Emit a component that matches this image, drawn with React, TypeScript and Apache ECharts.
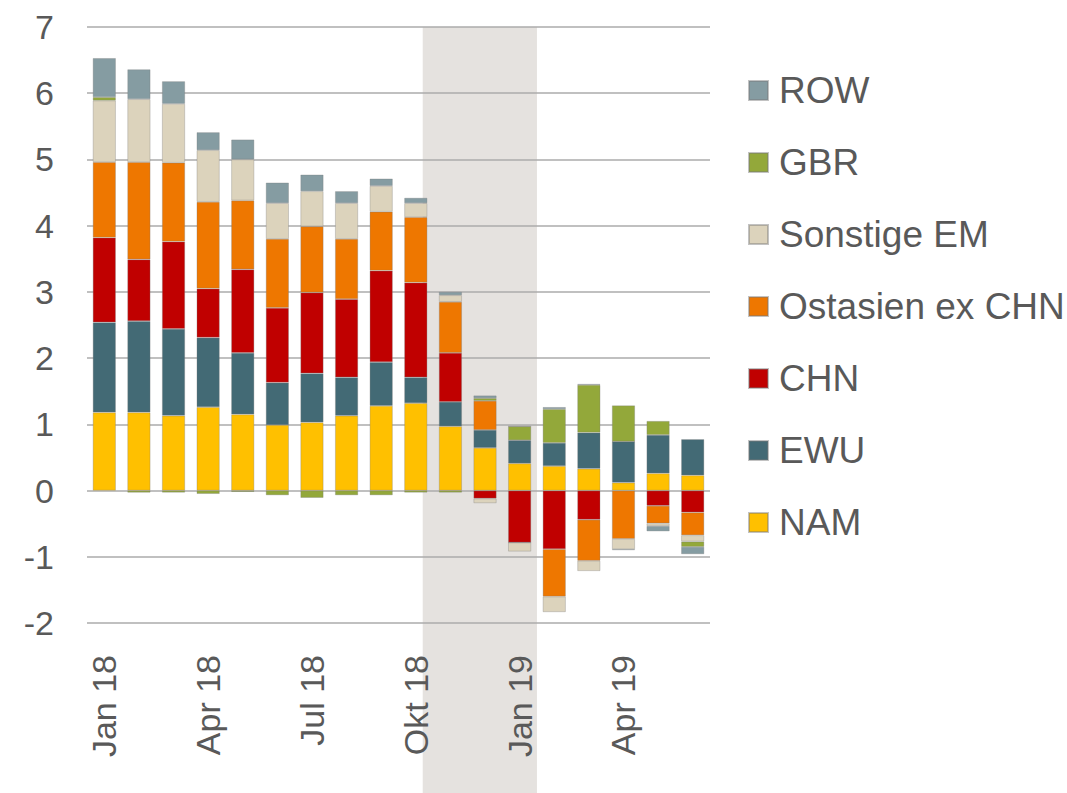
import React, { useEffect, useRef } from "react";
import * as echarts from "echarts";

const categories = ["Jan 18", "Feb 18", "Mär 18", "Apr 18", "Mai 18", "Jun 18", "Jul 18", "Aug 18", "Sep 18", "Okt 18", "Nov 18", "Dez 18", "Jan 19", "Feb 19", "Mär 19", "Apr 19", "Mai 19", "Jun 19"];

const NAM = [1.18, 1.18, 1.13, 1.26, 1.15, 0.99, 1.03, 1.13, 1.28, 1.32, 0.97, 0.645, 0.41, 0.37, 0.33, 0.12, 0.26, 0.23];
const EWU = [1.36, 1.38, 1.31, 1.05, 0.93, 0.64, 0.74, 0.58, 0.66, 0.39, 0.37, 0.27, 0.35, 0.35, 0.545, 0.62, 0.58, 0.545];
const CHN = [1.28, 0.93, 1.32, 0.74, 1.26, 1.13, 1.22, 1.18, 1.38, 1.43, 0.74, -0.12, -0.785, -0.885, -0.44, 0, -0.23, -0.33];
const OST = [1.14, 1.47, 1.19, 1.31, 1.04, 1.04, 1.0, 0.91, 0.89, 0.99, 0.77, 0.44, 0, -0.715, -0.62, -0.73, -0.265, -0.345];
const SONST = [0.93, 0.95, 0.89, 0.78, 0.62, 0.54, 0.53, 0.54, 0.39, 0.21, 0.1, -0.07, -0.135, -0.235, -0.155, -0.155, -0.04, -0.095];
const GBR = [0.05, -0.03, -0.03, -0.05, -0.02, -0.07, -0.11, -0.07, -0.07, -0.03, -0.03, 0.04, 0.21, 0.51, 0.72, 0.545, 0.21, -0.08];
const ROW = [0.59, 0.45, 0.34, 0.27, 0.3, 0.31, 0.25, 0.18, 0.11, 0.08, 0.05, 0.04, 0, 0.03, 0.015, -0.015, -0.08, -0.11];

const seriesNames = ["NAM", "EWU", "CHN", "Ostasien ex CHN", "Sonstige EM", "GBR", "ROW"];
const seriesData = [NAM, EWU, CHN, OST, SONST, GBR, ROW];
const seriesColors = ["#FFC000", "#436A75", "#C00000", "#EE7700", "#DCD3BC", "#93A83A", "#859CA2"];
const legendOrder = ["ROW", "GBR", "Sonstige EM", "Ostasien ex CHN", "CHN", "EWU", "NAM"];

// shaded period on a continuous month scale (0..18)
const shadeStart = 9.7;
const shadeEnd = 13.0;

const yMin = -2;
const yMax = 7;

export default function App() {
  const ref = useRef<HTMLDivElement>(null);
  useEffect(() => {
    if (!ref.current) return;
    const chart = echarts.init(ref.current, undefined, { renderer: "svg" });
    const font = "'Liberation Sans', Arial, sans-serif";
    chart.setOption({
      animation: false,
      backgroundColor: "#ffffff",
      grid: { left: 87, right: 357, top: 27, bottom: 170, containLabel: false },
      legend: {
        orient: "vertical",
        left: 743,
        top: 67,
        data: legendOrder,
        icon: "rect",
        itemWidth: 19,
        itemHeight: 19,
        itemGap: 35,
        selectedMode: false,
        textStyle: { fontSize: 37, color: "#595959", fontFamily: font, padding: [0, 0, 0, 6] },
      },
      xAxis: [
        {
          type: "category",
          data: categories,
          axisLine: { show: false },
          axisTick: { show: false },
          axisLabel: {
            interval: 2,
            rotate: 90,
            fontSize: 34,
            color: "#595959",
            fontFamily: font,
            margin: 32,
          },
        },
        { type: "value", min: 0, max: 18, show: false },
      ],
      yAxis: {
        type: "value",
        min: yMin,
        max: yMax,
        interval: 1,
        axisLine: { show: false },
        axisTick: { show: false },
        axisLabel: { fontSize: 34, color: "#595959", fontFamily: font, margin: 33 },
        splitLine: { lineStyle: { color: "#ABABAB", width: 1.5 } },
      },
      series: seriesNames.map((name, i) => ({
        name,
        type: "bar",
        stack: "total",
        barWidth: 23,
        data: seriesData[i],
        itemStyle: {
          color: seriesColors[i],
          borderColor: "rgba(120,120,120,0.45)",
          borderWidth: 0.7,
        },
      })),
    });
    const x1 = chart.convertToPixel({ xAxisIndex: 1 }, shadeStart) as number;
    const x2 = chart.convertToPixel({ xAxisIndex: 1 }, shadeEnd) as number;
    const yTop = chart.convertToPixel({ yAxisIndex: 0 }, yMax) as number;
    if (isFinite(x1) && isFinite(x2) && isFinite(yTop)) {
      chart.setOption({
        graphic: [
          {
            type: "rect",
            z: -10,
            silent: true,
            shape: { x: x1, y: yTop, width: x2 - x1, height: chart.getHeight() - yTop },
            style: { fill: "#E5E2DF" },
          },
        ],
      });
    }
    return () => chart.dispose();
  }, []);
  return <div ref={ref} style={{ position: "absolute", left: 0, top: 0, width: 1067, height: 793 }} />;
}
